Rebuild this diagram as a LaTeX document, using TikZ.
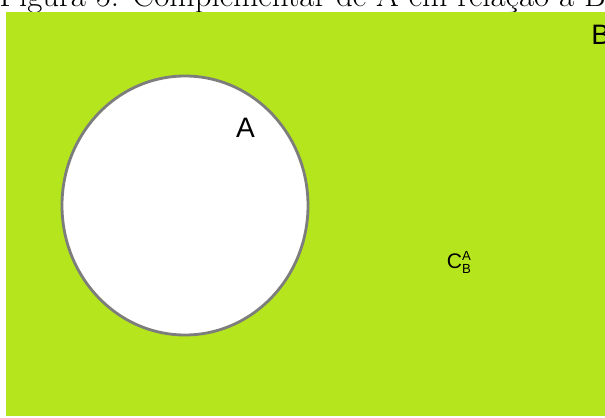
\documentclass[tikz,border=0pt]{standalone}
\usepackage{fontspec}
\usepackage{tikz}
\usetikzlibrary{positioning,calc}

\newfontfamily\labelfont{Liberation Sans}
\definecolor{limegreen}{RGB}{181,230,29}
\definecolor{rimgray}{RGB}{125,125,125}

\begin{document}
\begin{tikzpicture}

\useasboundingbox (0,0) rectangle (12.1,8.34);

\node[anchor=base west, inner sep=0pt] (caption) at (-0.02,8.2)
    {\fontsize{18.7}{22}\selectfont Figura 5: Complementar de A em relação a B};

\fill[limegreen] (0.12,0.02) rectangle (12.3,8.1);

\fill[white] (3.7,4.23) ellipse (2.46 and 2.59);
\draw[rimgray, line width=1.6pt] (3.7,4.23) ellipse (2.46 and 2.59);

\node[inner sep=0pt] (labelA) at (4.91,5.79)
    {\labelfont\fontsize{16}{16}\selectfont A};
\node[anchor=base west, inner sep=0pt] (labelB) at (11.82,7.44)
    {\labelfont\fontsize{16}{16}\selectfont B};

\node[anchor=base west, inner sep=0pt] (complement) at (8.93,2.98)
    {\labelfont\fontsize{12}{12}\selectfont C$^{\hbox{\labelfont\fontsize{7.5}{7.5}\selectfont A}}_{\hbox{\labelfont\fontsize{7.5}{7.5}\selectfont B}}$};

\end{tikzpicture}
\end{document}
